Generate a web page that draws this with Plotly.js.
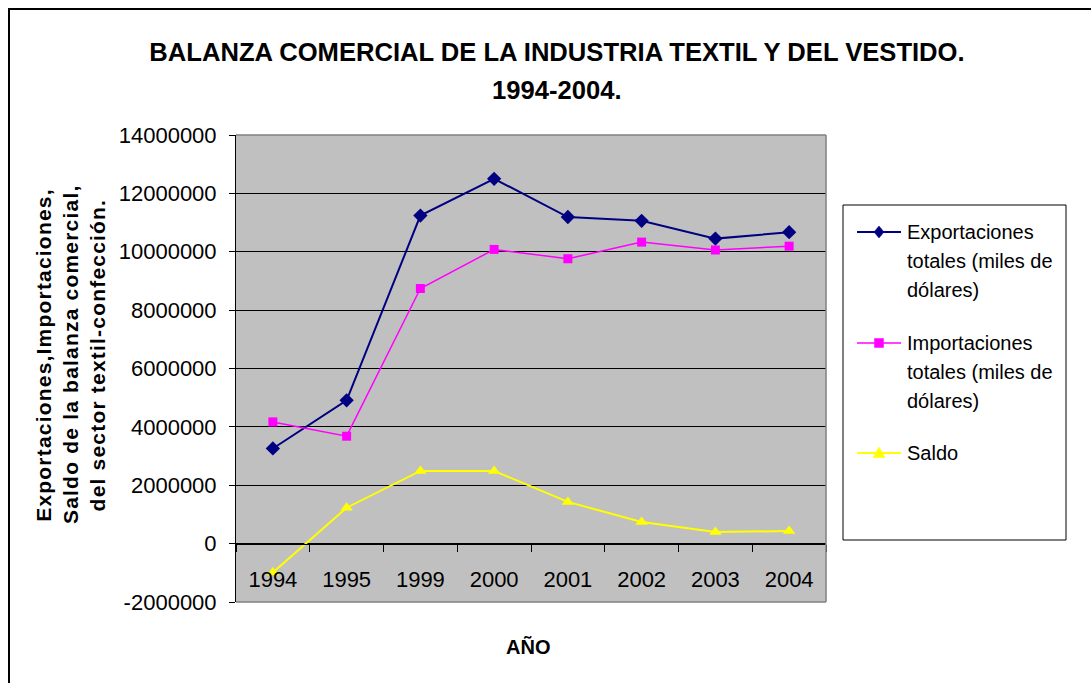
<!DOCTYPE html>
<html><head><meta charset="utf-8">
<script src="https://cdn.plot.ly/plotly-3.0.1.min.js"></script>
<style>html,body{margin:0;padding:0;background:#fff}#chart{width:1091px;height:683px}</style>
</head><body><div id="chart"></div>
<script>
// ---- data ----
const years = ['1994', '1995', '1999', '2000', '2001', '2002', '2003', '2004'];
const exportaciones = [3260000, 4910000, 11240000, 12500000, 11190000, 11060000, 10450000, 10670000];
const importaciones = [4170000, 3680000, 8740000, 10080000, 9760000, 10330000, 10060000, 10190000];
const saldo = [-990000, 1230000, 2490000, 2490000, 1430000, 740000, 400000, 430000];
const seriesNames = ['Exportaciones totales (miles de dólares)', 'Importaciones totales (miles de dólares)', 'Saldo'];
const legendLines = [['Exportaciones', 'totales (miles de', 'dólares)'], ['Importaciones', 'totales (miles de', 'dólares)'], ['Saldo']];
const yTickVals = [-2000000, 0, 2000000, 4000000, 6000000, 8000000, 10000000, 12000000, 14000000];
const yTickText = ['-2000000', '0', '2000000', '4000000', '6000000', '8000000', '10000000', '12000000', '14000000'];
const titleLine1 = 'BALANZA COMERCIAL DE LA INDUSTRIA TEXTIL Y DEL VESTIDO.';
const titleLine2 = '1994-2004.';
const yTitleLines = ['Exportaciones,Importaciones,', 'Saldo de la balanza comercial,', 'del sector textil-confección.'];
const xTitle = 'AÑO';

// ---- geometry helpers (pixel -> paper) ----
const W = 1091, H = 683, L = 236, R = 826, T = 135, B = 602;
const xp = x => (x - L) / (R - L);
const yp = y => (B - y) / (B - T);
const FONT = 'Liberation Sans, Arial, Helvetica, sans-serif';

const colors = ['#000080', '#FF00FF', '#FFFF00'];
const traces = [
  {x: years, y: exportaciones, name: seriesNames[0], type: 'scatter', mode: 'lines+markers',
   line: {color: colors[0], width: 2}, marker: {symbol: 'diamond', size: 11, color: colors[0]}},
  {x: years, y: importaciones, name: seriesNames[1], type: 'scatter', mode: 'lines+markers',
   line: {color: colors[1], width: 1.5}, marker: {symbol: 'square', size: 9, color: colors[1]}},
  {x: years, y: saldo, name: seriesNames[2], type: 'scatter', mode: 'lines+markers',
   line: {color: colors[2], width: 2}, marker: {symbol: 'triangle-up', size: 11, color: colors[2]}}
];

const shapes = [
  // outer frame
  {type: 'rect', xref: 'paper', yref: 'paper', x0: xp(9), x1: xp(1200), y0: yp(9), y1: yp(800),
   line: {color: '#000', width: 2}, fillcolor: 'rgba(0,0,0,0)', layer: 'below'},
  // plot border (top, right, bottom)
  {type: 'line', xref: 'paper', yref: 'paper', x0: 0, x1: 1, y0: 1, y1: 1, line: {color: '#808080', width: 1.5}, layer: 'above'},
  {type: 'line', xref: 'paper', yref: 'paper', x0: 1, x1: 1, y0: 0, y1: 1, line: {color: '#808080', width: 1.5}, layer: 'above'},
  {type: 'line', xref: 'paper', yref: 'paper', x0: 0, x1: 1, y0: 0, y1: 0, line: {color: '#808080', width: 1.5}, layer: 'above'},
  // legend box
  {type: 'rect', xref: 'paper', yref: 'paper', x0: xp(843), x1: xp(1066), y0: yp(205), y1: yp(540),
   line: {color: '#000', width: 1}, fillcolor: '#fff', layer: 'above'}
];
const annotations = [
  {text: titleLine2, xref: 'paper', yref: 'paper', x: xp(557), y: yp(90), xanchor: 'center', yanchor: 'middle',
   showarrow: false, font: {family: FONT, size: 25.6, color: '#000', weight: 'bold'}},
  {text: xTitle, xref: 'paper', yref: 'paper', x: xp(528), y: yp(647), xanchor: 'center', yanchor: 'middle',
   showarrow: false, font: {family: FONT, size: 20, color: '#000', weight: 'bold'}}
];
const yTitleX = [43, 70, 97];
yTitleLines.forEach((t, i) => annotations.push({
  text: t, xref: 'paper', yref: 'paper', x: xp(yTitleX[i]), y: yp(355), xanchor: 'center', yanchor: 'middle',
  textangle: -90, showarrow: false, font: {family: FONT, size: 21, color: '#000', weight: 'bold'}
}));

// manual legend
const legY = [232, 343, 453];
const lineGap = 29;
legY.forEach((cy, i) => {
  shapes.push({type: 'line', xref: 'paper', yref: 'paper', x0: xp(857), x1: xp(901), y0: yp(cy), y1: yp(cy),
    line: {color: colors[i], width: i === 1 ? 1.5 : 2}, layer: 'above'});
  const cx = 879;
  let path;
  if (i === 0) path = `M ${xp(cx)},${yp(cy - 6)} L ${xp(cx + 5)},${yp(cy)} L ${xp(cx)},${yp(cy + 6)} L ${xp(cx - 5)},${yp(cy)} Z`;
  else if (i === 1) path = `M ${xp(cx - 4.5)},${yp(cy - 4.5)} L ${xp(cx + 4.5)},${yp(cy - 4.5)} L ${xp(cx + 4.5)},${yp(cy + 4.5)} L ${xp(cx - 4.5)},${yp(cy + 4.5)} Z`;
  else path = `M ${xp(cx)},${yp(cy - 6)} L ${xp(cx + 6)},${yp(cy + 4.5)} L ${xp(cx - 6)},${yp(cy + 4.5)} Z`;
  shapes.push({type: 'path', xref: 'paper', yref: 'paper', path: path, fillcolor: colors[i],
    line: {color: colors[i], width: 0.5}, layer: 'above'});
  legendLines[i].forEach((t, j) => annotations.push({
    text: t, xref: 'paper', yref: 'paper', x: xp(905), y: yp(cy + j * lineGap), xanchor: 'left', yanchor: 'middle',
    showarrow: false, font: {family: FONT, size: 20, color: '#000'}
  }));
});

const layout = {
  width: W, height: H,
  margin: {l: L, r: W - R, t: T, b: H - B, pad: 0},
  paper_bgcolor: '#fff', plot_bgcolor: '#C0C0C0',
  showlegend: false,
  title: {text: titleLine1, x: 557 / W, xref: 'container', xanchor: 'center', y: 1 - 52 / H, yref: 'container', yanchor: 'middle',
          font: {family: FONT, size: 25.6, color: '#000', weight: 'bold'}},
  font: {family: FONT, color: '#000'},
  xaxis: {type: 'category', range: [-0.5, 7.5], anchor: 'free', position: 2000000 / 16000000,
          showline: true, linecolor: '#000', linewidth: 1, ticks: 'outside', ticklen: 7, tickcolor: '#000',
          tickson: 'boundaries', showgrid: false, zeroline: false, tickfont: {family: FONT, size: 22, color: '#000'},
          ticklabelstandoff: 16, fixedrange: true},
  yaxis: {range: [-2000000, 14000000], tickvals: yTickVals, ticktext: yTickText,
          showline: true, linecolor: '#000', linewidth: 1, ticks: 'outside', ticklen: 6, tickcolor: '#000',
          showgrid: true, gridcolor: '#000', gridwidth: 1, zeroline: true, zerolinecolor: '#000', zerolinewidth: 1,
          tickfont: {family: FONT, size: 22, color: '#000'}, ticklabelstandoff: 8, fixedrange: true},
  shapes: shapes,
  annotations: annotations
};

Plotly.newPlot('chart', traces, layout, {staticPlot: true, displayModeBar: false}).then(() => {
  document.querySelectorAll('.annotation-text').forEach(el => {
    if (yTitleLines.includes(el.textContent)) el.style.letterSpacing = '1.2px';
  });
});
</script>
</body></html>
